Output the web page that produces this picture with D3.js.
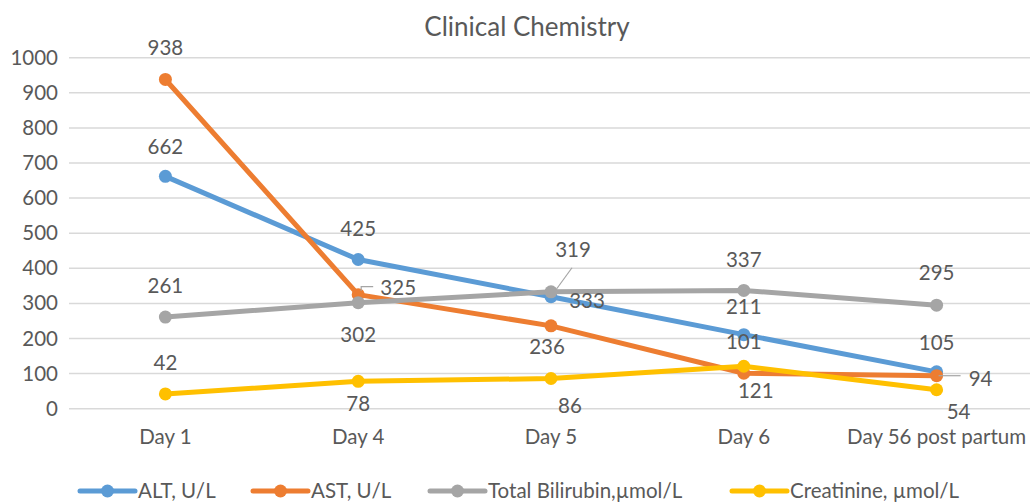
<!DOCTYPE html>
<html>
<head>
<meta charset="utf-8">
<script src="https://cdn.jsdelivr.net/npm/d3@7"></script>
<style>
  body { margin: 0; background: #fff; }
  text { font-family: Lato, "Open Sans", sans-serif; fill: #595959; }
</style>
</head>
<body>
<svg id="chart" width="1030" height="502"></svg>
<script>
// Categories and series values
const days = ["Day 1", "Day 4", "Day 5", "Day 6", "Day 56 post partum"];
const alt = [662, 425, 319, 211, 105];
const ast = [938, 325, 236, 101, 94];
const bilirubin = [261, 302, 333, 337, 295];
const creatinine = [42, 78, 86, 121, 54];
const yTicks = [0, 100, 200, 300, 400, 500, 600, 700, 800, 900, 1000];

const seriesNames = ["ALT, U/L", "AST, U/L", "Total Bilirubin,\u00b5mol/L", "Creatinine, \u00b5mol/L"];
const seriesColors = ["#5b9bd5", "#ed7d31", "#a5a5a5", "#ffc000"];
const seriesValues = [alt, ast, bilirubin, creatinine];

// label offsets from the point (px), as they sit in the picture
const labelOffsets = [
    [[0, -30], [0, -31], [22, -47], [0, -28], [0, -29]],
    [[0, -32], [40, -7], [-4, 21], [0, -31], [44, 3]],
    [[0, -31], [0, 32], [36, 9], [0, -31], [0, -32]],
    [[0, -31], [0, 23], [19, 27], [12, 25], [22, 22]]
];

const svg = d3.select("#chart");
const margin = { top: 57.7, left: 69, right: -3, bottom: 93.3 };
const width = 1030, height = 502;
const fontSize = "20.5px";

const x = d3.scaleBand()
    .domain(days)
    .range([margin.left, width - margin.right]);
const cx = d => x(d) + x.bandwidth() / 2;

const y = d3.scaleLinear()
    .domain([0, 1000])
    .range([height - margin.bottom, margin.top]);

// Title
svg.append("text")
    .attr("x", 527)
    .attr("y", 27)
    .attr("dy", "0.35em")
    .attr("text-anchor", "middle")
    .style("font-size", "26px")
    .text("Clinical Chemistry");

// Gridlines
svg.append("g")
    .selectAll("line")
    .data(yTicks)
    .enter()
    .append("line")
    .attr("x1", margin.left)
    .attr("x2", width)
    .attr("y1", d => y(d))
    .attr("y2", d => y(d))
    .attr("stroke", "#d9d9d9")
    .attr("stroke-width", 1.5);

// Y axis labels
const yAxis = svg.append("g")
    .attr("transform", `translate(${margin.left},0)`)
    .call(d3.axisLeft(y).tickValues(yTicks).tickFormat(d3.format("d")).tickSize(0).tickPadding(11));
yAxis.select(".domain").remove();
yAxis.selectAll("text")
    .style("font-size", fontSize)
    .style("font-family", "Lato, sans-serif")
    .attr("fill", "#595959");

// X axis labels
const xAxis = svg.append("g")
    .attr("transform", `translate(0,${y(0)})`)
    .call(d3.axisBottom(x).tickSize(0).tickPadding(21));
xAxis.select(".domain").remove();
xAxis.selectAll("text")
    .style("font-size", fontSize)
    .style("font-family", "Lato, sans-serif")
    .attr("fill", "#595959");

// Lines and markers
const line = d3.line()
    .x((d, i) => cx(days[i]))
    .y(d => y(d));

seriesValues.forEach((vals, s) => {
    svg.append("path")
        .datum(vals)
        .attr("d", line)
        .attr("fill", "none")
        .attr("stroke", seriesColors[s])
        .attr("stroke-width", 5)
        .attr("stroke-linejoin", "round");

    svg.append("g")
        .selectAll("circle")
        .data(vals)
        .enter()
        .append("circle")
        .attr("cx", (d, i) => cx(days[i]))
        .attr("cy", d => y(d))
        .attr("r", 6.5)
        .attr("fill", seriesColors[s]);
});

// Leader lines for moved labels
const leader = d3.line();
const lp = (s, i) => [cx(days[i]), y(seriesValues[s][i])];
// AST Day 4
{
    const [px, py] = lp(1, 1);
    svg.append("path")
        .attr("d", leader([[px + 3, py - 4], [px + 3, py - 8], [px + 15, py - 8]]))
        .attr("fill", "none").attr("stroke", "#a5a5a5").attr("stroke-width", 1.2);
}
// ALT Day 5
{
    const [px, py] = lp(0, 2);
    svg.append("path")
        .attr("d", leader([[px + 5, py - 7], [px + 21, py - 29]]))
        .attr("fill", "none").attr("stroke", "#a5a5a5").attr("stroke-width", 1.2);
}
// AST Day 56
{
    const [px, py] = lp(1, 4);
    svg.append("path")
        .attr("d", leader([[px + 2, py], [px + 24, py]]))
        .attr("fill", "none").attr("stroke", "#a5a5a5").attr("stroke-width", 1.2);
}

// Data labels
seriesValues.forEach((vals, s) => {
    svg.append("g")
        .selectAll("text")
        .data(vals)
        .enter()
        .append("text")
        .attr("x", (d, i) => cx(days[i]) + labelOffsets[s][i][0])
        .attr("y", (d, i) => y(d) + labelOffsets[s][i][1])
        .attr("dy", "0.35em")
        .attr("text-anchor", "middle")
        .style("font-size", fontSize)
        .text(d => d);
});

// Legend
const legendX = [80, 253, 430, 732];
const legend = svg.append("g");
seriesNames.forEach((name, s) => {
    const g = legend.append("g").attr("transform", `translate(${legendX[s]},491)`);
    g.append("line")
        .attr("x1", 0).attr("x2", 55)
        .attr("stroke", seriesColors[s])
        .attr("stroke-width", 5)
        .attr("stroke-linecap", "round");
    g.append("circle")
        .attr("cx", 27.5)
        .attr("r", 6.5)
        .attr("fill", seriesColors[s]);
    g.append("text")
        .attr("x", 58)
        .attr("dy", "0.35em")
        .style("font-size", fontSize)
        .text(name);
});
</script>
</body>
</html>
